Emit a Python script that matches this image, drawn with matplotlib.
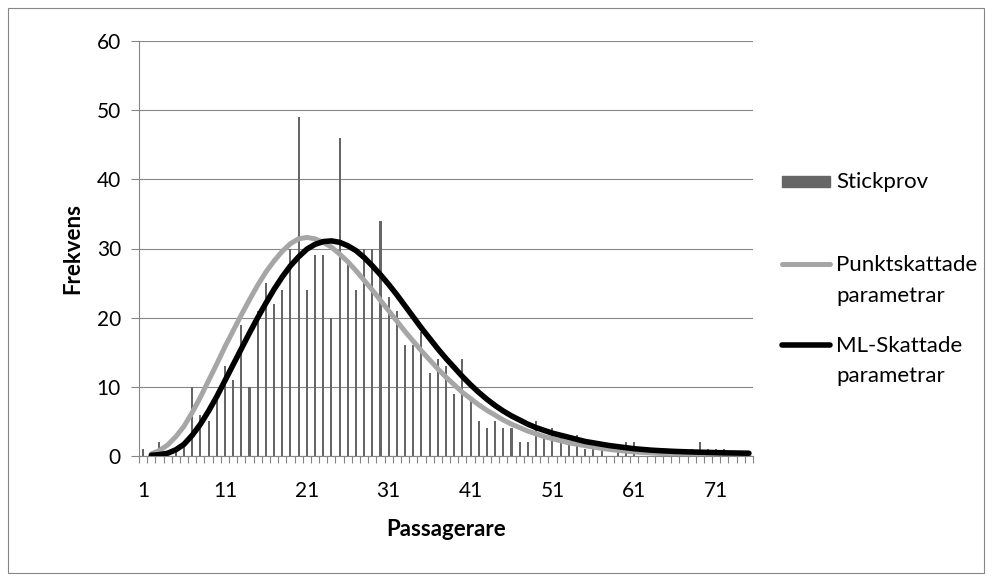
import matplotlib
matplotlib.use("Agg")
import matplotlib.pyplot as plt
from matplotlib.patches import Rectangle
from matplotlib.lines import Line2D
import numpy as np

plt.rcParams['font.family'] = ['Lato', 'DejaVu Sans']

# data
passagerare = np.arange(1, 76)
stickprov = [1, 0, 2, 0, 1, 2, 10, 6, 5, 9,
             13, 11, 19, 10, 21, 25, 22, 24, 30, 49,
             24, 29, 29, 20, 46, 28, 24, 30, 30, 34,
             23, 21, 16, 16, 18, 12, 14, 13, 9, 14,
             8, 5, 4, 5, 4, 4, 2, 2, 5, 3,
             4, 3, 2, 3, 1, 1, 1, 0, 1, 2,
             2, 0, 0, 0, 0, 0, 1, 1, 2, 1,
             1, 1, 0, 0, 0]
punktskattade = [np.nan, 0.3, 0.8, 1.6, 2.8, 4.3, 6.3, 8.5, 10.9, 13.3,
                 15.8, 18.1, 20.4, 22.6, 24.7, 26.6, 28.2, 29.6, 30.7, 31.4,
                 31.6, 31.4, 30.9, 30.2, 29.2, 28.1, 26.8, 25.4, 24.0, 22.5,
                 21.0, 19.5, 18.0, 16.6, 15.2, 13.9, 12.6, 11.4, 10.3, 9.2,
                 8.3, 7.4, 6.6, 5.9, 5.2, 4.6, 4.1, 3.6, 3.2, 2.8,
                 2.5, 2.2, 1.9, 1.7, 1.5, 1.3, 1.1, 0.95, 0.82, 0.7,
                 0.6, 0.52, 0.45, 0.38, 0.33, 0.28, 0.24, 0.2, 0.17, 0.15,
                 0.13, 0.11, 0.09, 0.08, 0.07]
ml_skattade = [np.nan, 0.1, 0.2, 0.4, 0.9, 1.7, 3.0, 4.6, 6.5, 8.6,
               10.9, 13.2, 15.5, 17.8, 20.0, 22.1, 24.1, 25.9, 27.5, 28.8,
               29.9, 30.6, 31.0, 31.1, 30.9, 30.4, 29.7, 28.7, 27.5, 26.2,
               24.8, 23.3, 21.7, 20.1, 18.5, 17.0, 15.5, 14.1, 12.8, 11.5,
               10.3, 9.2, 8.2, 7.3, 6.5, 5.8, 5.2, 4.6, 4.1, 3.7,
               3.3, 3.0, 2.7, 2.4, 2.1, 1.9, 1.7, 1.5, 1.35, 1.2,
               1.05, 0.95, 0.85, 0.78, 0.72, 0.66, 0.62, 0.58, 0.55, 0.52,
               0.49, 0.46, 0.44, 0.42, 0.4]
x_ticks = [1, 11, 21, 31, 41, 51, 61, 71]
y_ticks = [0, 10, 20, 30, 40, 50, 60]

W, H = 992, 581
axcol = '#868686'
barcol = '#666666'
graycol = '#a6a6a6'

fig = plt.figure(figsize=(W / 100, H / 100), dpi=100)
ax = fig.add_axes([139 / W, 1 - 456 / H, (753 - 139) / W, (456 - 41) / H])

ax.bar(passagerare, stickprov, width=0.25, color=barcol, zorder=2)
ax.plot(passagerare, punktskattade, color=graycol, lw=3.6, zorder=3,
        solid_capstyle='round', solid_joinstyle='round')
ax.plot(passagerare, ml_skattade, color='black', lw=4.0, zorder=4,
        solid_capstyle='round', solid_joinstyle='round')

ax.set_xlim(0.5, 75.5)
ax.set_ylim(0, 60)
ax.set_yticks(y_ticks)
ax.set_xticks(x_ticks)
ax.set_xticks(np.arange(0.5, 76, 1), minor=True)
ax.yaxis.grid(True, color=axcol, lw=0.8)
ax.set_axisbelow(True)

for s in ['top', 'right']:
    ax.spines[s].set_visible(False)
for s in ['left', 'bottom']:
    ax.spines[s].set_color(axcol)
    ax.spines[s].set_linewidth(0.8)

ax.tick_params(axis='x', which='major', length=0, pad=18, labelsize=15)
ax.tick_params(axis='x', which='minor', length=5, color=axcol, width=0.8)
ax.tick_params(axis='y', length=6, color=axcol, width=0.8, pad=7, labelsize=15)

ax.set_xlabel('Passagerare', fontsize=16, fontweight='bold', labelpad=13)
ax.set_ylabel('Frekvens', fontsize=16, fontweight='bold', labelpad=10)

# legend, drawn by hand so the handles line up with the first text line
def fx(px):
    return px / W

def fy(py):
    return 1 - py / H

fig.add_artist(Rectangle((fx(782), fy(187)), fx(48), 11 / H, color=barcol,
                         transform=fig.transFigure))
fig.add_artist(Line2D([fx(782), fx(830)], [fy(264)] * 2, color=graycol, lw=3.6,
                      solid_capstyle='round', transform=fig.transFigure))
fig.add_artist(Line2D([fx(782), fx(830)], [fy(345)] * 2, color='black', lw=4.0,
                      solid_capstyle='round', transform=fig.transFigure))
fig.text(fx(836), fy(182), 'Stickprov', va='center', fontsize=16)
fig.text(fx(836), fy(265), 'Punktskattade', va='center', fontsize=16)
fig.text(fx(836), fy(296), 'parametrar', va='center', fontsize=16)
fig.text(fx(836), fy(346), 'ML-Skattade', va='center', fontsize=16)
fig.text(fx(836), fy(376), 'parametrar', va='center', fontsize=16)

# chart area border
fig.add_artist(Rectangle((fx(8), fy(573)), (984 - 8) / W, (573 - 8) / H, fill=False,
                         edgecolor=axcol, lw=0.8, transform=fig.transFigure))

fig.savefig('out.png', dpi=100)
